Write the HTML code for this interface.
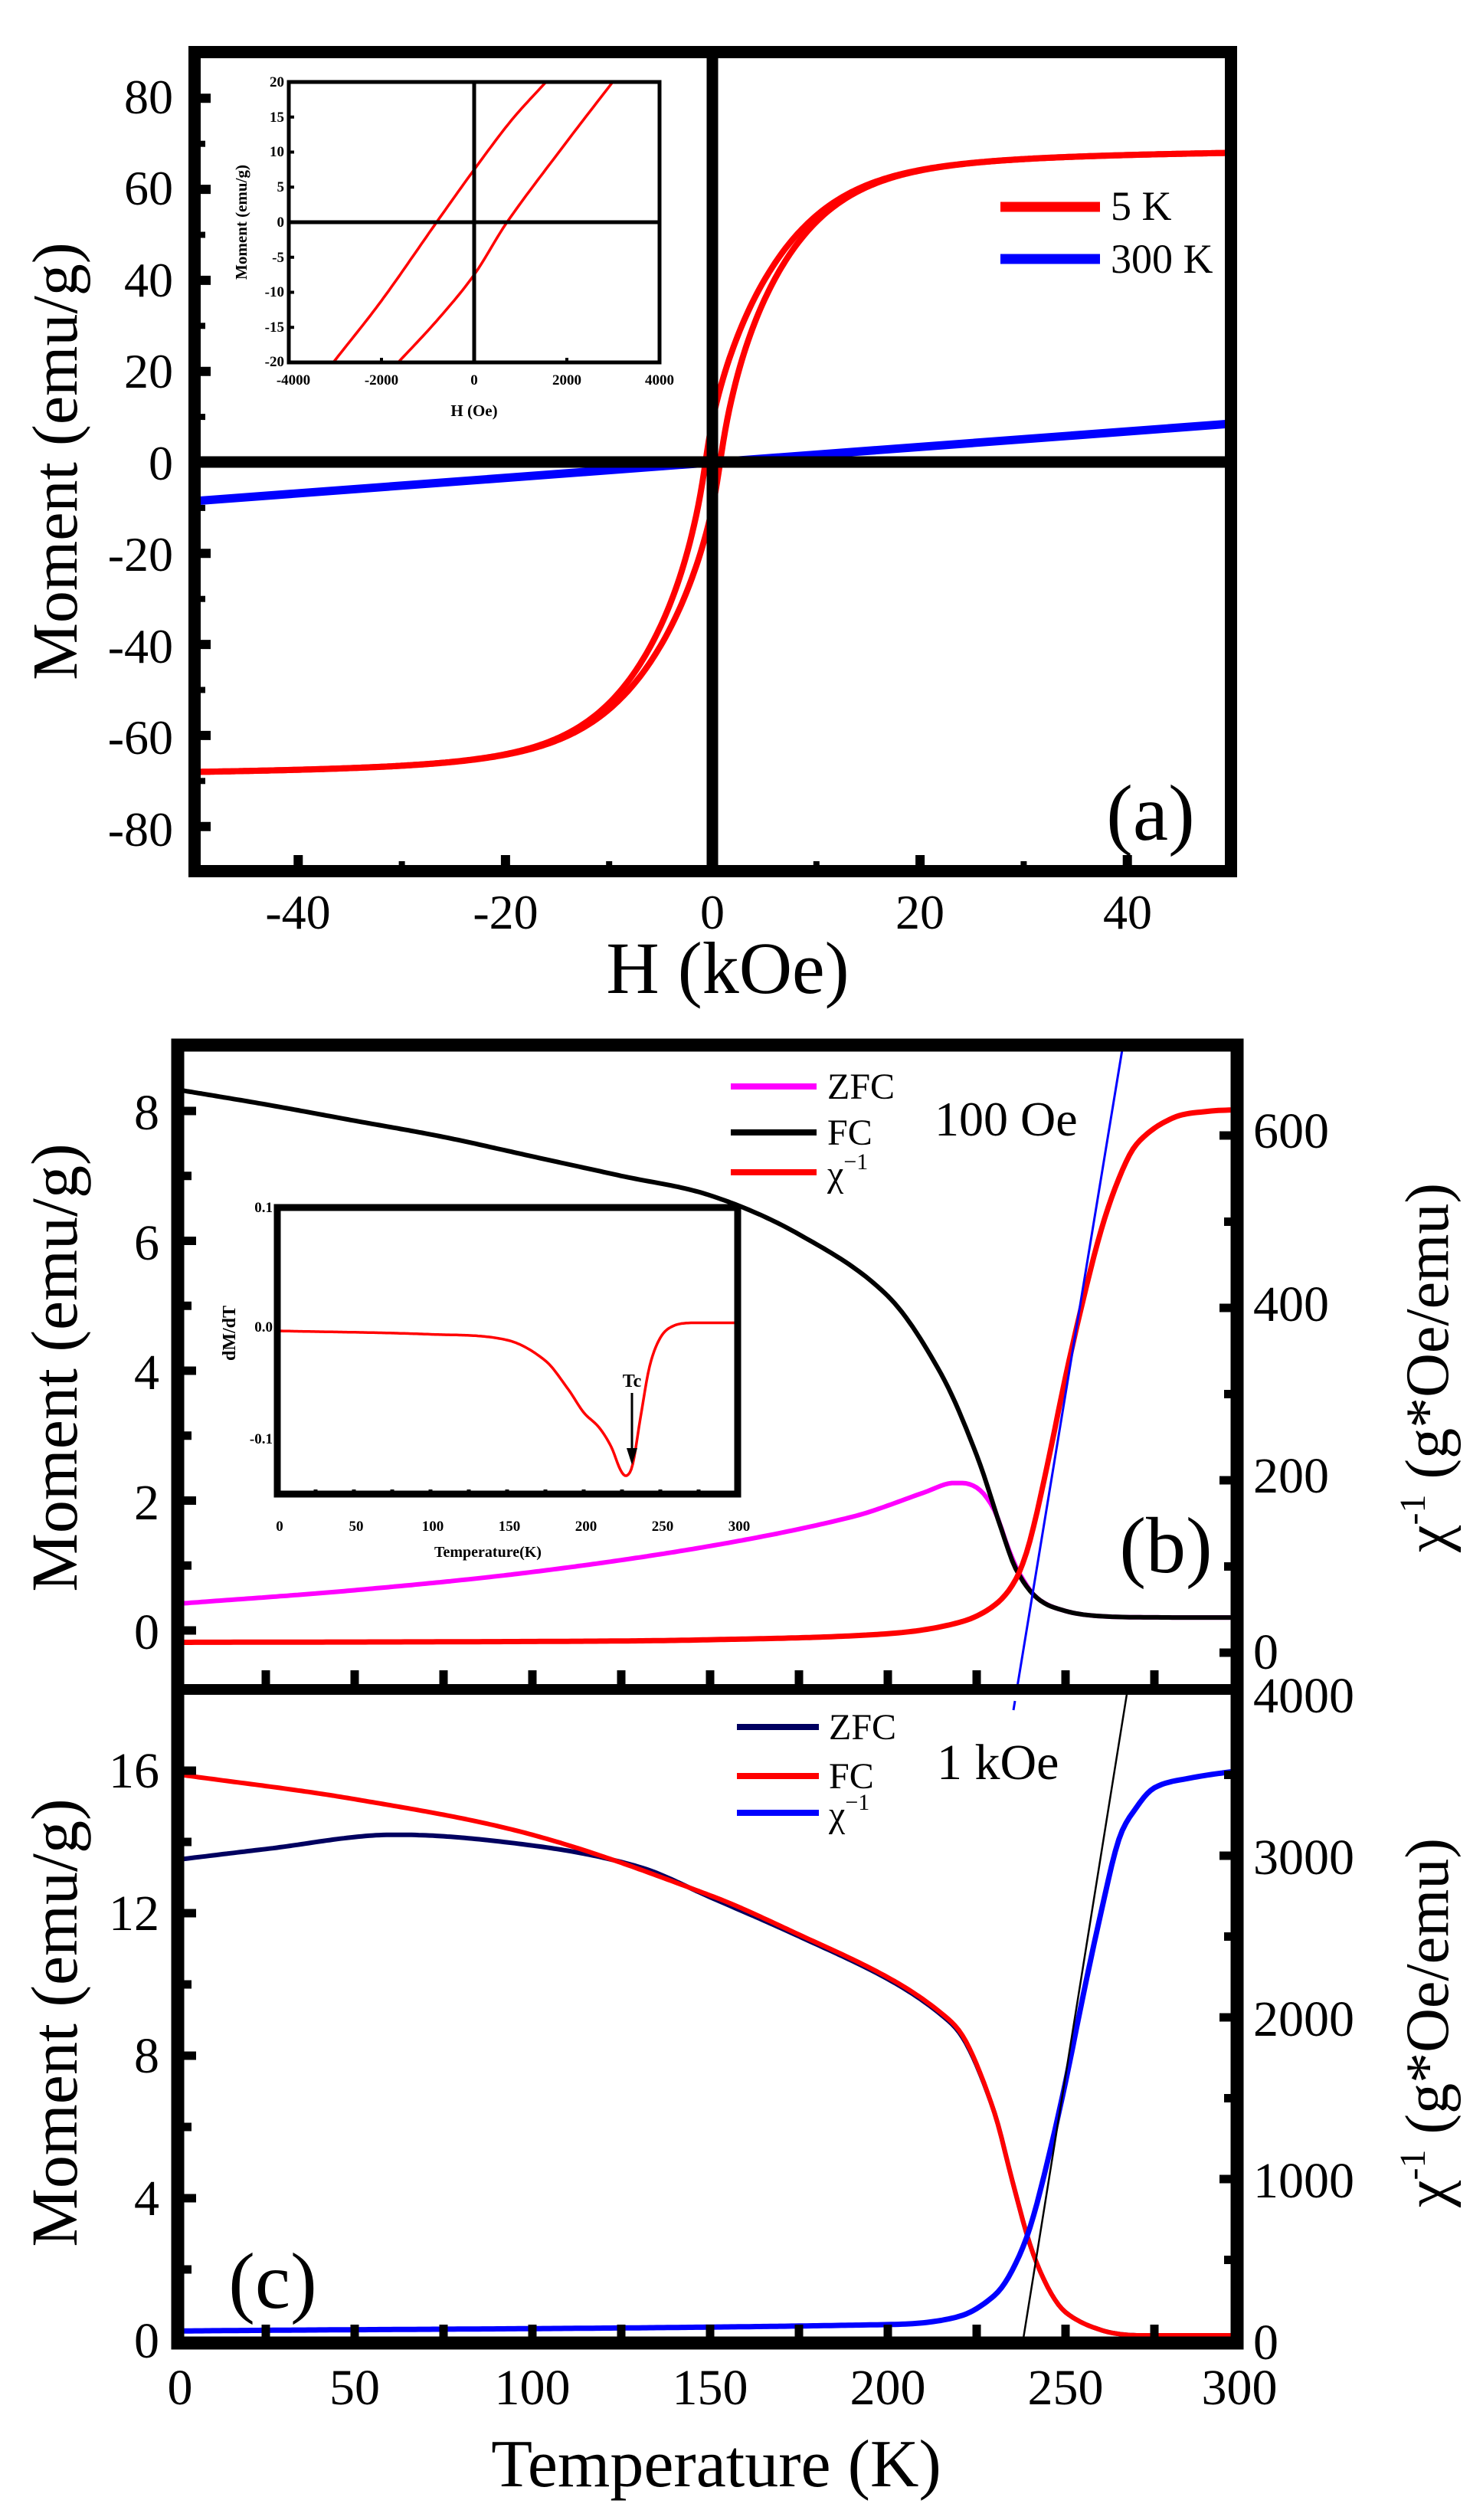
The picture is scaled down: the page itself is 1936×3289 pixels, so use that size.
<!DOCTYPE html>
<html><head><meta charset="utf-8">
<style>
html,body{margin:0;padding:0;background:#fff;}
svg{display:block;}
svg,text,tspan{font-family:"Liberation Serif","DejaVu Serif",serif;fill:#000;}
</style></head>
<body>
<svg id="s" width="1936" height="3289" viewBox="0 0 1936 3289" xmlns="http://www.w3.org/2000/svg" font-family="Liberation Serif, serif">
<rect width="1936" height="3289" fill="#fff"/>
<defs>
<clipPath id="ca"><rect x="254" y="68" width="1353" height="1069"/></clipPath>
<clipPath id="cb"><rect x="232" y="1364" width="1383" height="841"/></clipPath>
<clipPath id="cc"><rect x="232" y="2205" width="1383" height="853"/></clipPath>
<clipPath id="cia"><rect x="377" y="107" width="484" height="366"/></clipPath>
</defs>
<g id="g"></g>

<g font-size="64" text-anchor="end">
<text x="226" y="148">80</text><text x="226" y="267">60</text><text x="226" y="387">40</text>
<text x="226" y="506">20</text><text x="226" y="626">0</text><text x="226" y="745">-20</text>
<text x="226" y="865">-40</text><text x="226" y="984">-60</text><text x="226" y="1104">-80</text>
</g>
<g font-size="64" text-anchor="middle">
<text x="389" y="1212">-40</text><text x="660" y="1212">-20</text><text x="930" y="1212">0</text>
<text x="1201" y="1212">20</text><text x="1472" y="1212">40</text>
</g>
<text x="950" y="1296" font-size="96" text-anchor="middle">H (kOe)</text>
<text transform="translate(100,602) rotate(-90)" font-size="84" text-anchor="middle">Moment (emu/g)</text>
<text x="1502" y="1096" font-size="104" text-anchor="middle">(a)</text>
<text x="1450" y="287" font-size="54">5 K</text>
<text x="1450" y="356" font-size="54">300 K</text>
<g font-size="19" font-weight="bold" text-anchor="end">
<text x="371" y="113">20</text><text x="371" y="159">15</text><text x="371" y="204">10</text>
<text x="371" y="250">5</text><text x="371" y="296">0</text><text x="371" y="342">-5</text>
<text x="371" y="387">-10</text><text x="371" y="433">-15</text><text x="371" y="478">-20</text>
</g>
<g font-size="19" font-weight="bold" text-anchor="middle">
<text x="383" y="502">-4000</text><text x="498" y="502">-2000</text><text x="619" y="502">0</text>
<text x="740" y="502">2000</text><text x="861" y="502">4000</text>
</g>
<text x="619" y="543" font-size="21" font-weight="bold" text-anchor="middle">H (Oe)</text>
<text transform="translate(322,290) rotate(-90)" font-size="21" font-weight="bold" text-anchor="middle">Moment (emu/g)</text>

<g font-size="66" text-anchor="end">
<text x="208" y="1474">8</text><text x="208" y="1644">6</text><text x="208" y="1813">4</text>
<text x="208" y="1983">2</text><text x="208" y="2152">0</text>
</g>
<g font-size="66">
<text x="1636" y="1498">600</text><text x="1636" y="1724">400</text><text x="1636" y="1948">200</text>
<text x="1636" y="2178">0</text>
</g>
<text transform="translate(100,1785) rotate(-90)" font-size="86" text-anchor="middle">Moment (emu/g)</text>
<text transform="translate(1890,1785) rotate(-90)" font-size="80" text-anchor="middle">χ<tspan font-size="48" dy="-30">-1</tspan><tspan dy="30"> (g*Oe/emu)</tspan></text>
<text x="1080" y="1434" font-size="48">ZFC</text>
<text x="1080" y="1494" font-size="48">FC</text>
<text x="1080" y="1548" font-size="48">χ<tspan font-size="30" dy="-22">−1</tspan></text>
<text x="1220" y="1482" font-size="64">100 Oe</text>
<text x="1522" y="2052" font-size="104" text-anchor="middle">(b)</text>
<g font-size="19" font-weight="bold" text-anchor="end">
<text x="356" y="1582">0.1</text><text x="356" y="1738">0.0</text><text x="356" y="1884">-0.1</text>
</g>
<g font-size="19" font-weight="bold" text-anchor="middle">
<text x="365" y="1998">0</text><text x="465" y="1998">50</text><text x="565" y="1998">100</text>
<text x="665" y="1998">150</text><text x="765" y="1998">200</text><text x="865" y="1998">250</text><text x="965" y="1998">300</text>
</g>
<text x="637" y="2032" font-size="20" font-weight="bold" text-anchor="middle">Temperature(K)</text>
<text transform="translate(307,1740) rotate(-90)" font-size="24" font-weight="bold" text-anchor="middle">dM/dT</text>
<text x="825" y="1810" font-size="24" font-weight="bold" text-anchor="middle">Tc</text>

<g font-size="66" text-anchor="end">
<text x="208" y="2333">16</text><text x="208" y="2519">12</text><text x="208" y="2705">8</text>
<text x="208" y="2891">4</text><text x="208" y="3077">0</text>
</g>
<g font-size="66">
<text x="1636" y="2235">4000</text><text x="1636" y="2446">3000</text><text x="1636" y="2657">2000</text>
<text x="1636" y="2868">1000</text><text x="1636" y="3079">0</text>
</g>
<g font-size="66" text-anchor="middle">
<text x="235" y="3138">0</text><text x="463" y="3138">50</text><text x="695" y="3138">100</text>
<text x="927" y="3138">150</text><text x="1159" y="3138">200</text><text x="1391" y="3138">250</text><text x="1618" y="3138">300</text>
</g>
<text x="935" y="3245" font-size="88" text-anchor="middle">Temperature (K)</text>
<text transform="translate(100,2640) rotate(-90)" font-size="86" text-anchor="middle">Moment (emu/g)</text>
<text transform="translate(1890,2640) rotate(-90)" font-size="80" text-anchor="middle">χ<tspan font-size="48" dy="-30">-1</tspan><tspan dy="30"> (g*Oe/emu)</tspan></text>
<text x="1082" y="2270" font-size="48">ZFC</text>
<text x="1082" y="2334" font-size="48">FC</text>
<text x="1082" y="2384" font-size="48">χ<tspan font-size="30" dy="-22">−1</tspan></text>
<text x="1223" y="2322" font-size="66">1 kOe</text>
<text x="356" y="3012" font-size="104" text-anchor="middle">(c)</text>
</svg>
<script>
(function(){
var NS="http://www.w3.org/2000/svg",g=document.getElementById("g");
function el(t,a){var e=document.createElementNS(NS,t);for(var k in a)e.setAttribute(k,a[k]);g.appendChild(e);return e;}
function line(x1,y1,x2,y2,w,c){el("line",{x1:x1,y1:y1,x2:x2,y2:y2,stroke:c||"#000","stroke-width":w});}
function path(pts,c,w,clip){var d="";for(var i=0;i<pts.length;i++)d+=(i?"L":"M")+pts[i][0].toFixed(1)+","+pts[i][1].toFixed(1);
 var a={d:d,fill:"none",stroke:c,"stroke-width":w,"stroke-linejoin":"round","stroke-linecap":"round"};if(clip)a["clip-path"]="url(#"+clip+")";el("path",a);}
function interp(P,x){if(x<=P[0][0])return P[0][1];for(var i=1;i<P.length;i++){if(x<=P[i][0]){var a=P[i-1],b=P[i];
 var t=(x-a[0])/(b[0]-a[0]);var h00=2*t*t*t-3*t*t+1,h01=-2*t*t*t+3*t*t;
 var m0=i>1?(b[1]-P[i-2][1])/(b[0]-P[i-2][0]):(b[1]-a[1])/(b[0]-a[0]);
 var m1=i<P.length-1?(P[i+1][1]-a[1])/(P[i+1][0]-a[0]):(b[1]-a[1])/(b[0]-a[0]);
 var dx=b[0]-a[0];var h10=t*t*t-2*t*t+t,h11=t*t*t-t*t;
 var v=h00*a[1]+h01*b[1]+h10*dx*m0+h11*dx*m1;var lo=Math.min(a[1],b[1]),hi=Math.max(a[1],b[1]);
 return Math.max(lo,Math.min(hi,v));}}return P[P.length-1][1];}
function curve(P,fx,fy,x0,x1,n){var r=[];for(var i=0;i<=n;i++){var x=x0+(x1-x0)*i/n;r.push([fx(x),fy(interp(P,x))]);}return r;}

var ax=function(H){return 930.5+H*13.53;}, ay=function(M){return 603.5-M*5.94;};
function f(H){return 35*H/(Math.abs(H)+3)+35*Math.tanh(H/10);}
var up=[],dn=[];
for(var i=0;i<=500;i++){var H=-50+i*0.2;var s=0.75*Math.exp(-Math.abs(H)/12);
 up.push([ax(H),ay(f(H-s))]);dn.push([ax(H),ay(f(H+s))]);}
path(up,"#ff0000",8,"ca");path(dn,"#ff0000",8,"ca");
path([[ax(-50),ay(-8.5)],[ax(50),ay(8.5)]],"#0000ff",11,"ca");
line(930,68,930,1137,15);line(254,603,1607,603,15);
el("rect",{x:254,y:68,width:1353,height:1069,fill:"none",stroke:"#000","stroke-width":16});
for(var v=-80;v<=80;v+=10){var y=ay(v);line(254,y,(v%20==0)?275:268,y,(v%20==0)?12:8);}
for(var h=-40;h<=40;h+=10){var x=ax(h);line(x,1137,x,(h%20==0)?1116:1124,(h%20==0)?12:8);}
line(1306,270,1436,270,13,"#ff0000");line(1306,338,1436,338,13,"#0000ff");
var ix=function(H){return 619+H*0.0605;}, iy=function(M){return 290-M*9.15;};
var b1=[[-3040,-20],[-2000,-11.2],[-810,0],[0,7.5],[800,14.5],[1550,20]];
var b2=[[-1640,-20],[-800,-14],[0,-7.5],[710,0],[2000,11.5],[2990,20]];
path(curve(b1,ix,iy,-3040,1550,80),"#ff0000",3.5,"cia");
path(curve(b2,ix,iy,-1640,2990,80),"#ff0000",3.5,"cia");
el("rect",{x:377,y:107,width:484,height:366,fill:"none",stroke:"#000","stroke-width":5});
line(619,107,619,473,5);line(377,290,861,290,5);
for(var v=-15;v<=15;v+=5){line(377,iy(v),384,iy(v),4);}
line(ix(-2000),473,ix(-2000),467,4);line(ix(2000),473,ix(2000),467,4);

var tx=function(T){return 231+T*4.64;};
var by=function(m){return 2128-m*84.75;}, bcy=function(c){return 2157-c*1.125;};
var FCb=[[0,8.33],[25,8.1],[50,7.85],[75,7.6],[100,7.3],[125,7.0],[150,6.7],[175,6.1],[200,5.15],[215,3.95],[225,2.7],[232,1.55],[236,0.95],[242,0.5],[250,0.3],[260,0.22],[280,0.2],[300,0.2]];
var ZFb=[[0,0.41],[50,0.62],[100,0.9],[150,1.3],[190,1.75],[210,2.12],[218,2.27],[225,2.2],[230,1.85],[234,1.25],[237,0.88],[242,0.5],[250,0.3],[260,0.22],[280,0.2],[300,0.2]];
var CHb=[[0,12],[100,13],[150,15],[200,22],[220,35],[230,55],[236,85],[240,130],[245,220],[250,320],[255,410],[260,490],[265,550],[270,590],[280,620],[290,628],[300,630]];
path(curve(ZFb,tx,by,0,300,300),"#ff00ff",6,"cb");
path(curve(FCb,tx,by,0,300,300),"#000",6,"cb");
path(curve(CHb,tx,bcy,0,300,300),"#ff0000",7,"cb");
el("line",{x1:1323,y1:2232,x2:1466,y2:1364,stroke:"#0000ff","stroke-width":3,"clip-path":"url(#cb)"});
line(1323,2232,1325,2220,3,"#0000ff");
line(954,1418,1066,1418,8,"#ff00ff");line(954,1478,1066,1478,8,"#000");line(954,1530,1066,1530,8,"#ff0000");
var iby=function(v){return 1731-v*1500;}, ibx=function(T){return 362+T*2.0;};
var DM=[[0,-0.004],[100,-0.007],[150,-0.012],[175,-0.03],[190,-0.055],[200,-0.075],[210,-0.088],[218,-0.105],[224,-0.125],[228,-0.13],[232,-0.12],[237,-0.08],[243,-0.035],[250,-0.01],[258,0.0],[270,0.003],[300,0.003]];
path(curve(DM,ibx,iby,0,300,300),"#ff0000",3.5);
el("rect",{x:362,y:1576,width:601,height:374,fill:"none",stroke:"#000","stroke-width":9});
for(var T=25;T<300;T+=25){line(ibx(T),1950,ibx(T),1944,5);}
line(825,1818,825,1905,3);el("path",{d:"M818,1890 L825,1912 L832,1890 Z",fill:"#000"});

var cy=function(m){return 3055-m*46.5;}, ccy=function(c){return 3055-c*0.211;};
var FCc=[[0,15.9],[50,15.2],[100,14.2],[150,12.5],[175,11.4],[200,10.2],[215,9.2],[222,8.4],[230,6.4],[235,4.5],[240,2.7],[245,1.5],[250,0.8],[260,0.3],[270,0.15],[300,0.15]];
var ZFc=[[0,13.5],[25,13.8],[60,14.2],[100,13.9],[130,13.3],[150,12.45],[175,11.35],[200,10.15],[215,9.15],[222,8.35],[230,6.4],[235,4.5],[240,2.7],[245,1.5],[250,0.8],[260,0.3],[270,0.15],[300,0.15]];
var CHc=[[0,60],[200,100],[220,150],[230,280],[235,435],[240,700],[245,1115],[250,1600],[255,2140],[260,2650],[265,3100],[270,3300],[275,3420],[285,3480],[300,3530]];
path(curve(ZFc,tx,cy,0,300,300),"#000060",6,"cc");
path(curve(FCc,tx,cy,0,300,300),"#ff0000",6,"cc");
path(curve(CHc,tx,ccy,0,300,300),"#0000ff",7,"cc");
el("line",{x1:1335,y1:3058,x2:1472,y2:2205,stroke:"#000","stroke-width":2.5,"clip-path":"url(#cc)"});
line(962,2254,1069,2254,8,"#000060");line(962,2318,1069,2318,8,"#ff0000");line(962,2366,1069,2366,8,"#0000ff");

el("rect",{x:232,y:1364,width:1383,height:1694,fill:"none",stroke:"#000","stroke-width":17});
line(232,2205,1615,2205,14);
for(var m=0;m<=9;m++){var y=by(m);if(y>1372&&y<2198)line(232,y,(m%2==0)?256:250,y,11);}
for(var c=0;c<=600;c+=100){var y=bcy(c);line(1615,y,(c%200==0)?1592:1598,y,11);}
for(var m=0;m<=17;m+=2){var y=cy(m);if(y>2212&&y<3050)line(232,y,(m%4==0)?256:250,y,11);}
for(var c=0;c<=4000;c+=500){var y=ccy(c);if(y>2212)line(1615,y,(c%1000==0)?1592:1598,y,11);}
for(var T=25;T<300;T+=25){var x=tx(T);line(x,2198,x,2180,11);line(x,3050,x,3034,11);}
})();
</script>
</body></html>
